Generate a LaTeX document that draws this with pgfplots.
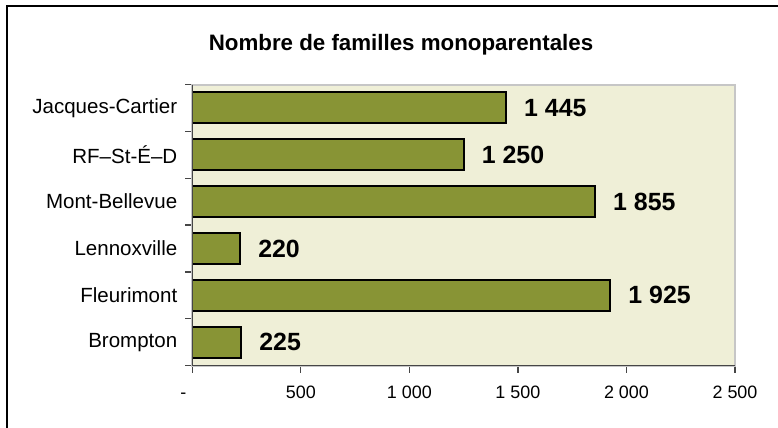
\documentclass[border=0pt]{standalone}
\usepackage{pgfplots}
\pgfplotsset{compat=1.18}
\usepackage{fontspec}
\setmainfont{Liberation Sans}
\definecolor{barfill}{RGB}{136,148,53}
\definecolor{plotbg}{RGB}{239,239,215}
\definecolor{axisdark}{RGB}{70,70,70}
\begin{document}
\begin{tikzpicture}
\useasboundingbox (0bp,0bp) rectangle (389bp,-214bp);
\draw[black,line width=1bp] (3.5bp,-214bp) -- (3.5bp,-3bp) -- (389bp,-3bp);
\node[font=\bfseries\fontsize{11.2}{13}\selectfont] at (200.5bp,-22.5bp) {Nombre de familles monoparentales};
\begin{axis}[
  at={(96.15bp,-42.25bp)}, anchor=north west,
  scale only axis, width=271.35bp, height=140.6bp,
  xbar, bar width=0.66,
  xmin=0, xmax=2500, ymin=-0.5, ymax=5.5,
  axis background/.style={fill=plotbg},
  axis line style={draw=gray!45, line width=1bp},
  xtick={0,500,1000,1500,2000,2500},
  xticklabels={\makebox[0pt][r]{\vphantom{0}-\hspace{3bp}},500,1 000,1 500,2 000,2 500},
  ytick={0,1,2,3,4,5},
  yticklabels={Brompton,Fleurimont,Lennoxville,Mont-Bellevue,RF--St-É--D,Jacques-Cartier},
  minor ytick={-0.5,0.5,1.5,2.5,3.5,4.5,5.5},
  tick align=outside,
  xtick pos=bottom, ytick pos=left,
  major tick length=3.5bp, minor tick length=3.5bp,
  y tick style={draw=none},
  minor y tick style={draw=axisdark, line width=0.6bp},
  x tick style={draw=axisdark, line width=0.6bp},
  xticklabel style={font=\fontsize{9}{11}\selectfont, yshift=-3bp},
  yticklabel style={font=\fontsize{10.3}{12}\selectfont, xshift=-0.5bp},
  /pgf/number format/assume math mode=true,
  point meta=explicit symbolic,
  nodes near coords,
  nodes near coords style={font=\bfseries\fontsize{12.5}{14}\selectfont, anchor=west, xshift=5.3bp, text=black},
  after end axis/.code={
    \draw[axisdark, line width=0.7bp] (axis cs:0,5.5) -- (axis cs:0,-0.5) -- (axis cs:2500,-0.5);
  },
]
\addplot[fill=barfill, draw=black, line width=1bp] coordinates {
  (225,0) [225]
  (1925,1) [1 925]
  (220,2) [220]
  (1855,3) [1 855]
  (1250,4) [1 250]
  (1445,5) [1 445]
};
\end{axis}
\end{tikzpicture}
\end{document}
